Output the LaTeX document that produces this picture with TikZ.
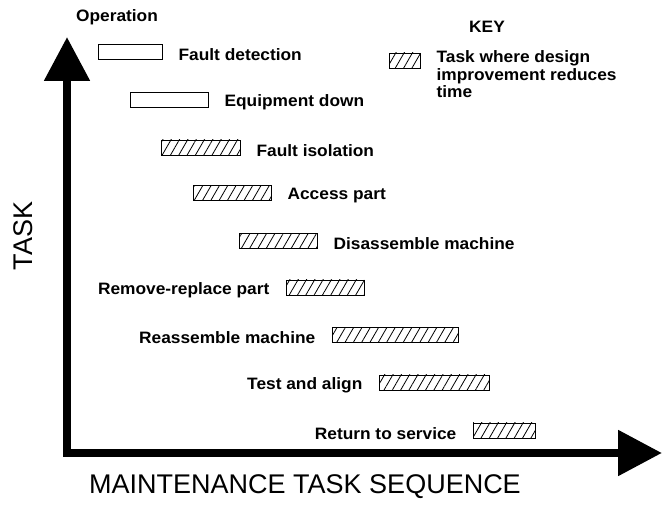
\documentclass[tikz,border=0pt]{standalone}
\usepackage{fontspec}
\setmainfont{Liberation Sans}
\newfontfamily\lblfont[FakeStretch=1.05]{Liberation Sans}
\usepackage{tikz}
\usetikzlibrary{arrows.meta, positioning, patterns.meta}

\begin{document}
\begin{tikzpicture}[
  x=1pt, y=1pt,
  every node/.style={font=\lblfont\fontsize{16.5}{17.5}\selectfont\bfseries},
  bar/.style={draw, line width=0.8pt, minimum height=15pt, inner sep=0pt},
  hatched/.style={bar, pattern={Lines[angle=60, distance=7.2pt, line width=0.8pt]}},
  lbl/.style={inner sep=0pt, yshift=-3pt},
  axis/.style={line width=8.5pt, line join=miter, {Triangle[length=44pt, width=44pt]}-{Triangle[length=44pt, width=44pt]}},
  big/.style={font=\fontsize{27}{30}\selectfont}
]
\useasboundingbox (0,0) rectangle (664,508);

\coordinate (origin) at (67,55);
\coordinate (ytip) at (67,471);
\coordinate (xtip) at (662,55);
\draw[axis] (ytip) -- (origin) -- (xtip);

\node (oper) at (117,491) {Operation};
\node[big, rotate=90] (task) at (23,272) {TASK};
\node[big] (seq) at (305,21) {MAINTENANCE TASK SEQUENCE};

\node[bar, minimum width=64pt] (det) at (130,456) {};
\node[bar, minimum width=78pt] (down) at (169,408.5) {};
\node[hatched, minimum width=79pt] (iso) at (200.5,360.5) {};
\node[hatched, minimum width=78pt] (acc) at (232,315) {};
\node[hatched, minimum width=78pt] (dis) at (278,267) {};
\node[hatched, minimum width=78pt] (rem) at (325,220.5) {};
\node[hatched, minimum width=126pt] (rea) at (395,173) {};
\node[hatched, minimum width=110pt] (tst) at (434,125.5) {};
\node[hatched, minimum width=62pt] (ret) at (504,77.5) {};

\node[lbl, right=16pt of det] (detl) {Fault detection};
\node[lbl, right=16pt of down] (downl) {Equipment down};
\node[lbl, right=16pt of iso] (isol) {Fault isolation};
\node[lbl, right=16pt of acc] (accl) {Access part};
\node[lbl, right=16pt of dis] (disl) {Disassemble machine};
\node[lbl, left=16pt of rem] (reml) {Remove-replace part};
\node[lbl, left=16pt of rea] (real) {Reassemble machine};
\node[lbl, left=16pt of tst] (tstl) {Test and align};
\node[lbl, left=16pt of ret] (retl) {Return to service};

\node (key) at (487,481) {KEY};
\node[hatched, minimum width=31pt] (keybox) at (404.5,447.5) {};
\node[lbl, align=left, anchor=north west] (keyl) at ([xshift=16pt, yshift=5pt]keybox.north east) {Task where design\\improvement reduces\\time};

\end{tikzpicture}
\end{document}
